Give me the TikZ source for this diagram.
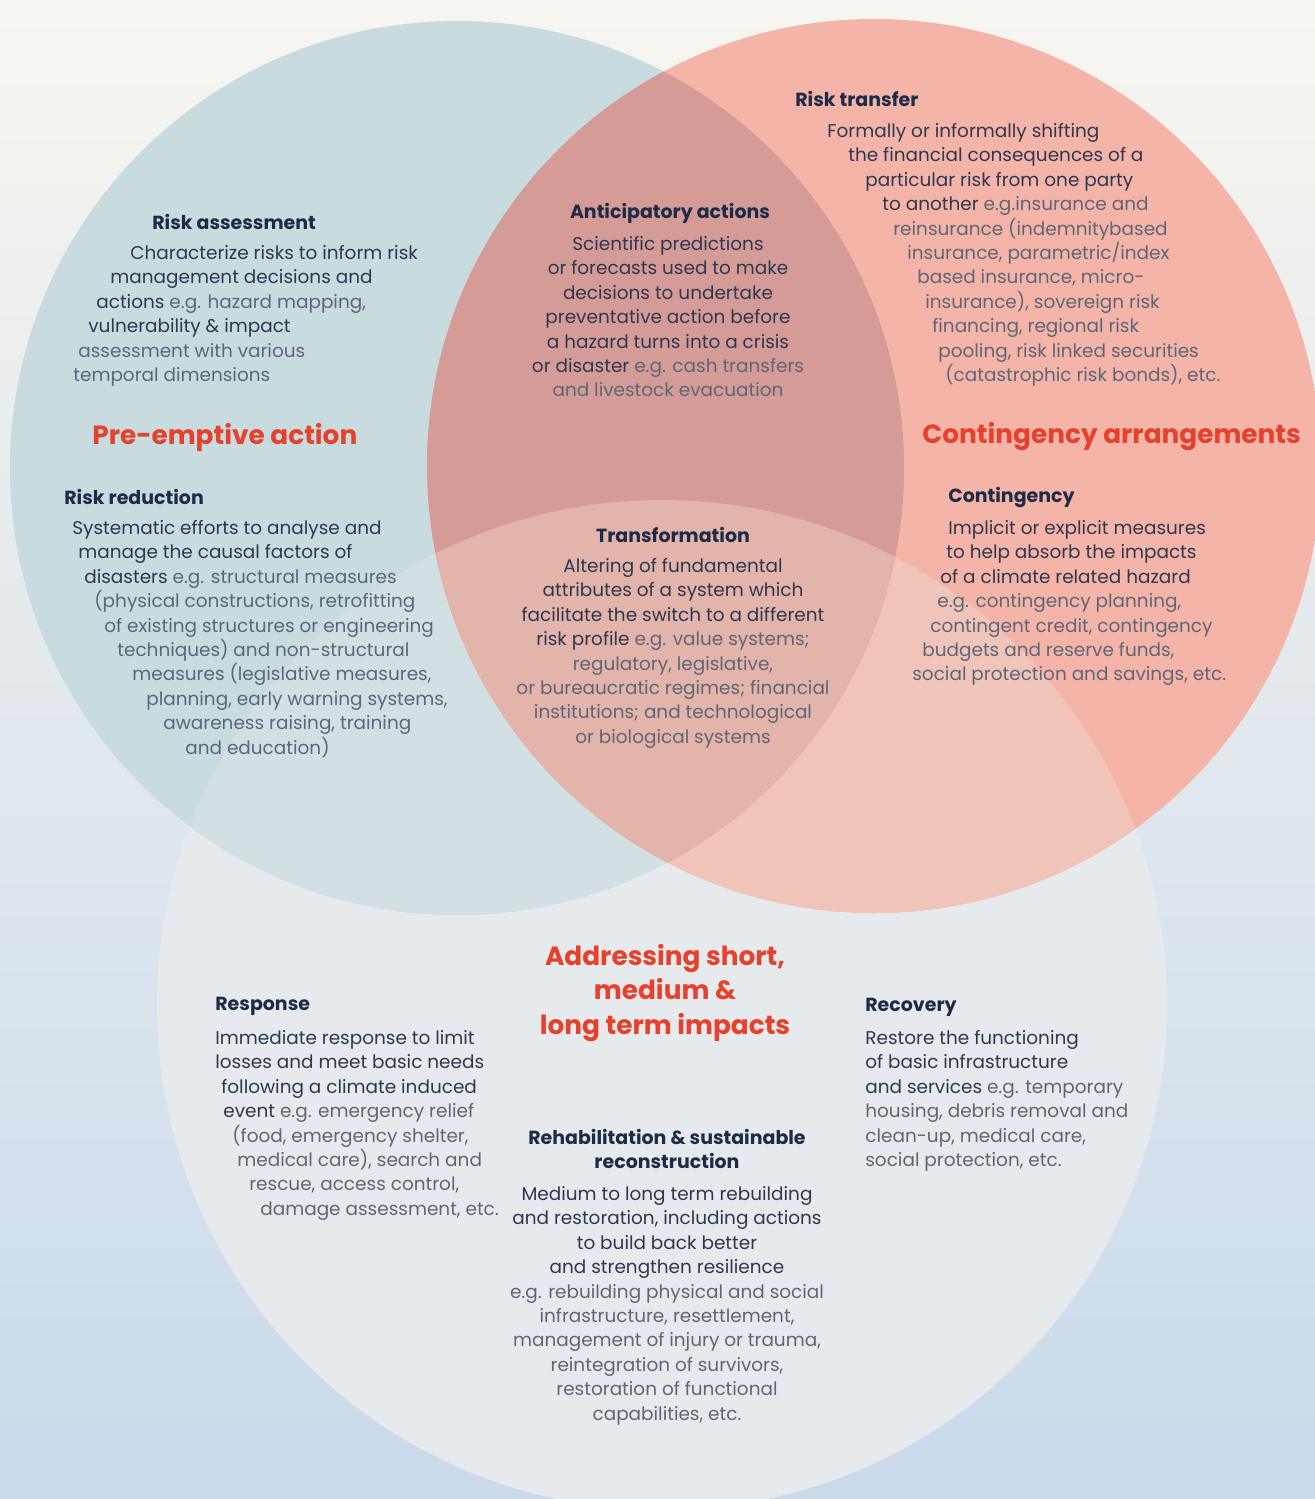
\documentclass[tikz,border=0pt]{standalone}
\usepackage{fontspec}
\setmainfont{Poppins}
\usetikzlibrary{positioning}

\newlength\px
\setlength\px{0.02cm}

%Colors
\definecolor{bgtop}{HTML}{F7F5EF}
\definecolor{bgbottom}{HTML}{CADAEB}
\definecolor{lcol}{HTML}{C8DBDF}
\definecolor{rcol}{HTML}{F4B4A7}
\definecolor{bcol}{HTML}{E6EAEC}
\definecolor{lbcol}{HTML}{D3E0E3}
\definecolor{rbcol}{HTML}{F0C4B9}
\definecolor{lrcol}{HTML}{D59C97}
\definecolor{lrbcol}{HTML}{E2B4AA}
\definecolor{navy}{HTML}{1E2B48}
\definecolor{ink}{HTML}{2E3850}
\definecolor{exgrey}{HTML}{5E6678}
\definecolor{redhead}{HTML}{E5412D}

\newcommand\ex[1]{{\color{exgrey}#1}}
\newcommand\ind[1]{\hspace*{#1\px}}

\begin{document}
\begin{tikzpicture}
		[x=0.02cm,y=-0.02cm,
		%Styles
		title/.style={font=\fontsize{10.8}{13.9}\selectfont\bfseries,text=navy,anchor=west,inner sep=0pt},
		body/.style={font=\fontsize{10.5}{13.9}\selectfont,text=ink,align=left,anchor=north west,inner sep=0pt},
		centred body/.style={body,align=center,anchor=north},
		big title/.style={font=\fontsize{15}{19.8}\selectfont\bfseries,text=redhead,inner sep=0pt,anchor=west}
		]
		
		\useasboundingbox (0,0) rectangle (1315,1499);
		\shade[top color=bgtop,bottom color=bgbottom] (0,0) rectangle (1315,1499);
		
		%The circles
		\coordinate (cL) at (457,468);
		\coordinate (cR) at (874,466);
		\coordinate (cB) at (662,1005);
		
		\fill[bcol] (cB) circle (505);
		\fill[lcol] (cL) circle (447);
		\fill[rcol] (cR) circle (447);
		\begin{scope}
			\clip (cB) circle (505);
			\fill[lbcol] (cL) circle (447);
			\fill[rbcol] (cR) circle (447);
		\end{scope}
		\begin{scope}
			\clip (cL) circle (447);
			\fill[lrcol] (cR) circle (447);
			\clip (cB) circle (505);
			\fill[lrbcol] (cR) circle (447);
		\end{scope}
		
		%Headings
		\node[big title] (pre) at (92,437) {Pre-emptive action};
		\node[big title] (cont) at (922,437) {Contingency arrangements};
		\node[big title,anchor=center,align=center] (addr) at (665,993)
			{Addressing short,\\medium \&\\long term impacts};
		
		%Risk assessment
		\node[title] (ra) at (152,222) {Risk assessment};
		\node[body] (ra-txt) at (73,245)
			{\ind{57}Characterize risks to inform risk\\
			\ind{37}management decisions and\\
			\ind{23}actions \ex{e.g. hazard mapping,}\\
			\ind{15}vulnerability \& impact\\
			\ind{5}\ex{assessment with various}\\
			\ex{temporal dimensions}};
		
		%Anticipatory actions
		\node[title,anchor=center] (aa) at (670,213) {Anticipatory actions};
		\node[centred body] (aa-txt) at (668,236)
			{Scientific predictions\\
			or forecasts used to make\\
			decisions to undertake\\
			preventative action before\\
			a hazard turns into a crisis\\
			or disaster \ex{e.g. cash transfers}\\
			\ex{and livestock evacuation}};
		
		%Risk transfer
		\node[title] (rt) at (795,99) {Risk transfer};
		\node[body] (rt-txt) at (827,123)
			{Formally or informally shifting\\
			\ind{21}the financial consequences of a\\
			\ind{38}particular risk from one party\\
			\ind{55}to another \ex{e.g.insurance and}\\
			\ind{66}\ex{reinsurance (indemnitybased}\\
			\ind{80}\ex{insurance, parametric/index}\\
			\ind{90}\ex{based insurance, micro-}\\
			\ind{98}\ex{insurance), sovereign risk}\\
			\ind{105}\ex{financing, regional risk}\\
			\ind{111}\ex{pooling, risk linked securities}\\
			\ind{118}\ex{(catastrophic risk bonds), etc.}};
		
		%Risk reduction
		\node[title] (rr) at (64,497) {Risk reduction};
		\node[body] (rr-txt) at (72,520)
			{Systematic efforts to analyse and\\
			\ind{6}manage the causal factors of\\
			\ind{12}disasters \ex{e.g. structural measures}\\
			\ind{22}\ex{(physical constructions, retrofitting}\\
			\ind{32}\ex{of existing structures or engineering}\\
			\ind{45}\ex{techniques) and non-structural}\\
			\ind{60}\ex{measures (legislative measures,}\\
			\ind{74}\ex{planning, early warning systems,}\\
			\ind{91}\ex{awareness raising, training}\\
			\ind{113}\ex{and education)}};
		
		%Transformation
		\node[title,anchor=center] (tf) at (673,535) {Transformation};
		\node[centred body] (tf-txt) at (673,558)
			{Altering of fundamental\\
			attributes of a system which\\
			facilitate the switch to a different\\
			risk profile \ex{e.g. value systems;}\\
			\ex{regulatory, legislative,}\\
			\ex{or bureaucratic regimes; financial}\\
			\ex{institutions; and technological}\\
			\ex{or biological systems}};
		
		%Contingency
		\node[title] (cg) at (948,497) {Contingency};
		\node[body] (cg-txt) at (912,520)
			{\ind{36}Implicit or explicit measures\\
			\ind{34}to help absorb the impacts\\
			\ind{28}of a climate related hazard\\
			\ind{25}\ex{e.g. contingency planning,}\\
			\ind{18}\ex{contingent credit, contingency}\\
			\ind{10}\ex{budgets and reserve funds,}\\
			\ex{social protection and savings, etc.}};
		
		%Response
		\node[title] (rp) at (215,1006) {Response};
		\node[body] (rp-txt) at (215,1030)
			{Immediate response to limit\\
			losses and meet basic needs\\
			\ind{6}following a climate induced\\
			\ind{8}event \ex{e.g. emergency relief}\\
			\ind{17}\ex{(food, emergency shelter,}\\
			\ind{22}\ex{medical care), search and}\\
			\ind{34}\ex{rescue, access control,}\\
			\ind{45}\ex{damage assessment, etc.}};
		
		%Rehabilitation
		\node[title,anchor=north,align=center] (rh) at (667,1129)
			{Rehabilitation \& sustainable\\reconstruction};
		\node[centred body] (rh-txt) at (667,1186)
			{Medium to long term rebuilding\\
			and restoration, including actions\\
			to build back better\\
			and strengthen resilience\\
			\ex{e.g. rebuilding physical and social}\\
			\ex{infrastructure, resettlement,}\\
			\ex{management of injury or trauma,}\\
			\ex{reintegration of survivors,}\\
			\ex{restoration of functional}\\
			\ex{capabilities, etc.}};
		
		%Recovery
		\node[title] (rc) at (865,1007) {Recovery};
		\node[body] (rc-txt) at (865,1030)
			{Restore the functioning\\
			of basic infrastructure\\
			and services \ex{e.g. temporary}\\
			\ex{housing, debris removal and}\\
			\ex{clean-up, medical care,}\\
			\ex{social protection, etc.}};
	\end{tikzpicture}
\end{document}
